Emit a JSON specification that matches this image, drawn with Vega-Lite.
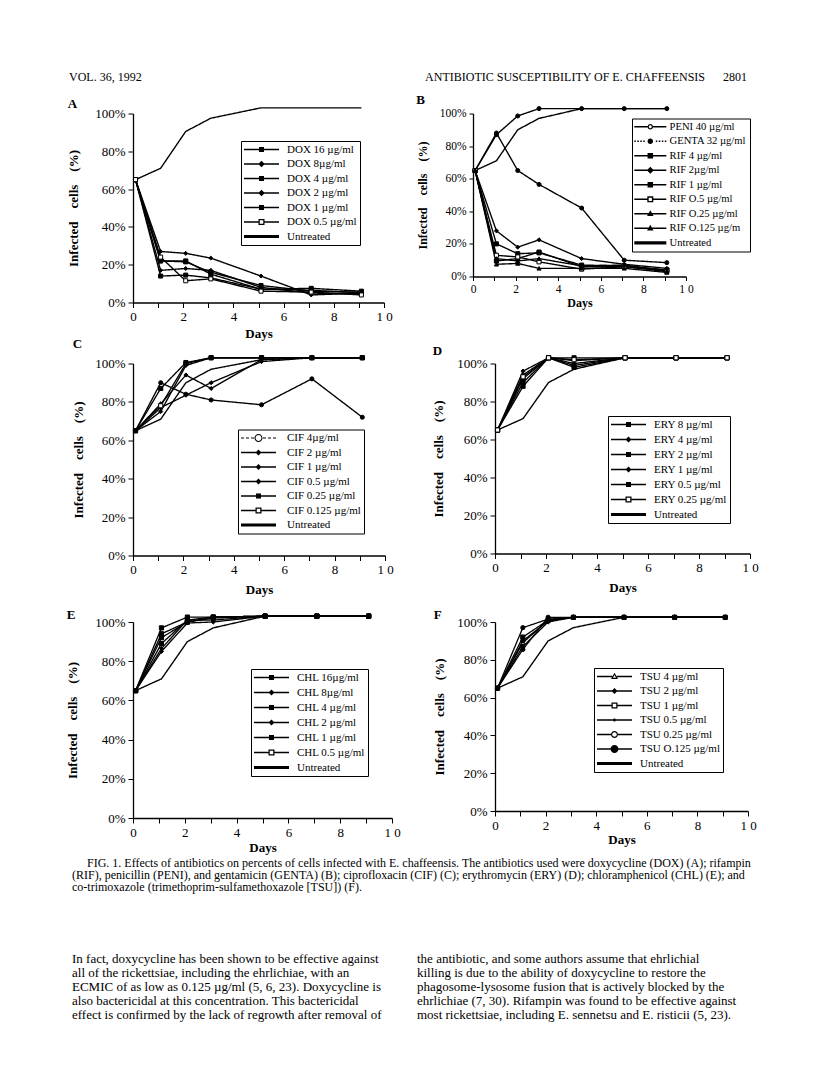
{
"$schema": "https://vega.github.io/schema/vega-lite/v6.json",
"background": "white",
"padding": {"left": 66, "top": 71, "right": 2, "bottom": 2},
"config": {
  "font": "Liberation Serif",
  "view": {"stroke": null},
  "axis": {"domainColor": "black", "tickColor": "black", "labelColor": "black", "titleColor": "black", "labelFont": "Liberation Serif", "titleFont": "Liberation Serif", "labelFontSize": 13, "titleFontSize": 13, "titleFontWeight": "bold", "tickSize": 5, "labelPadding": 3, "grid": false, "domainWidth": 1.3, "tickWidth": 1, "labelFlush": false, "labelOverlap": false},
  "legend": {"labelFont": "Liberation Serif", "labelFontSize": 11, "labelColor": "black", "strokeColor": "black", "fillColor": "white", "padding": 3, "rowPadding": 2.5, "orient": "none", "symbolStrokeWidth": 0, "symbolFillColor": "black", "symbolOpacity": 1},
  "title": {"font": "Liberation Serif", "fontSize": 13, "fontWeight": "bold", "color": "black", "anchor": "start", "frame": "bounds"}
},
"datasets": {
  "A": [
    {"day":0.1,"pct":65,"series":"DOX 16 µg/ml"},{"day":1.1,"pct":14,"series":"DOX 16 µg/ml"},{"day":2.1,"pct":14.5,"series":"DOX 16 µg/ml"},{"day":3.1,"pct":13,"series":"DOX 16 µg/ml"},{"day":5.1,"pct":7,"series":"DOX 16 µg/ml"},{"day":7.1,"pct":7.5,"series":"DOX 16 µg/ml"},{"day":9.1,"pct":6,"series":"DOX 16 µg/ml"},
    {"day":0.1,"pct":65,"series":"DOX 8µg/ml"},{"day":1.1,"pct":27,"series":"DOX 8µg/ml"},{"day":2.1,"pct":26,"series":"DOX 8µg/ml"},{"day":3.1,"pct":23.5,"series":"DOX 8µg/ml"},{"day":5.1,"pct":14,"series":"DOX 8µg/ml"},{"day":7.1,"pct":4,"series":"DOX 8µg/ml"},{"day":9.1,"pct":5,"series":"DOX 8µg/ml"},
    {"day":0.1,"pct":65,"series":"DOX 4 µg/ml"},{"day":1.1,"pct":22,"series":"DOX 4 µg/ml"},{"day":2.1,"pct":21.5,"series":"DOX 4 µg/ml"},{"day":3.1,"pct":16,"series":"DOX 4 µg/ml"},{"day":5.1,"pct":9,"series":"DOX 4 µg/ml"},{"day":7.1,"pct":6,"series":"DOX 4 µg/ml"},{"day":9.1,"pct":5.5,"series":"DOX 4 µg/ml"},
    {"day":0.1,"pct":65,"series":"DOX 2 µg/ml"},{"day":1.1,"pct":17,"series":"DOX 2 µg/ml"},{"day":2.1,"pct":18,"series":"DOX 2 µg/ml"},{"day":3.1,"pct":17,"series":"DOX 2 µg/ml"},{"day":5.1,"pct":8,"series":"DOX 2 µg/ml"},{"day":7.1,"pct":5,"series":"DOX 2 µg/ml"},{"day":9.1,"pct":4.5,"series":"DOX 2 µg/ml"},
    {"day":0.1,"pct":65,"series":"DOX 1 µg/ml"},{"day":1.1,"pct":22,"series":"DOX 1 µg/ml"},{"day":2.1,"pct":22,"series":"DOX 1 µg/ml"},{"day":3.1,"pct":15,"series":"DOX 1 µg/ml"},{"day":5.1,"pct":7,"series":"DOX 1 µg/ml"},{"day":7.1,"pct":6.5,"series":"DOX 1 µg/ml"},{"day":9.1,"pct":5,"series":"DOX 1 µg/ml"},
    {"day":0.1,"pct":65,"series":"DOX 0.5 µg/ml"},{"day":1.1,"pct":24,"series":"DOX 0.5 µg/ml"},{"day":2.1,"pct":11.5,"series":"DOX 0.5 µg/ml"},{"day":3.1,"pct":12.5,"series":"DOX 0.5 µg/ml"},{"day":5.1,"pct":6,"series":"DOX 0.5 µg/ml"},{"day":7.1,"pct":5.5,"series":"DOX 0.5 µg/ml"},{"day":9.1,"pct":4,"series":"DOX 0.5 µg/ml"},
    {"day":0.1,"pct":65,"series":"Untreated"},{"day":1.1,"pct":71,"series":"Untreated"},{"day":2.1,"pct":90.5,"series":"Untreated"},{"day":3.1,"pct":97.5,"series":"Untreated"},{"day":5.1,"pct":103,"series":"Untreated"},{"day":7.1,"pct":103,"series":"Untreated"},{"day":9.1,"pct":103,"series":"Untreated"}
  ],
  "B": [
    {"day":0.1,"pct":65,"series":"PENI 40 µg/ml"},{"day":1.1,"pct":87,"series":"PENI 40 µg/ml"},{"day":2.1,"pct":98.5,"series":"PENI 40 µg/ml"},{"day":3.1,"pct":103,"series":"PENI 40 µg/ml"},{"day":5.1,"pct":103,"series":"PENI 40 µg/ml"},{"day":7.1,"pct":103,"series":"PENI 40 µg/ml"},{"day":9.1,"pct":103,"series":"PENI 40 µg/ml"},
    {"day":0.1,"pct":65,"series":"GENTA 32 µg/ml"},{"day":1.1,"pct":88,"series":"GENTA 32 µg/ml"},{"day":2.1,"pct":65,"series":"GENTA 32 µg/ml"},{"day":3.1,"pct":56.5,"series":"GENTA 32 µg/ml"},{"day":5.1,"pct":42,"series":"GENTA 32 µg/ml"},{"day":7.1,"pct":10,"series":"GENTA 32 µg/ml"},{"day":9.1,"pct":8.5,"series":"GENTA 32 µg/ml"},
    {"day":0.1,"pct":65,"series":" RIF 4 µg/ml"},{"day":1.1,"pct":20,"series":" RIF 4 µg/ml"},{"day":2.1,"pct":14,"series":" RIF 4 µg/ml"},{"day":3.1,"pct":14.5,"series":" RIF 4 µg/ml"},{"day":5.1,"pct":7,"series":" RIF 4 µg/ml"},{"day":7.1,"pct":6.5,"series":" RIF 4 µg/ml"},{"day":9.1,"pct":4,"series":" RIF 4 µg/ml"},
    {"day":0.1,"pct":65,"series":"RIF 2µg/ml"},{"day":1.1,"pct":28,"series":"RIF 2µg/ml"},{"day":2.1,"pct":18,"series":"RIF 2µg/ml"},{"day":3.1,"pct":22.5,"series":"RIF 2µg/ml"},{"day":5.1,"pct":11,"series":"RIF 2µg/ml"},{"day":7.1,"pct":7.5,"series":"RIF 2µg/ml"},{"day":9.1,"pct":5,"series":"RIF 2µg/ml"},
    {"day":0.1,"pct":65,"series":"RIF 1 µg/ml"},{"day":1.1,"pct":9.5,"series":"RIF 1 µg/ml"},{"day":2.1,"pct":11,"series":"RIF 1 µg/ml"},{"day":3.1,"pct":15,"series":"RIF 1 µg/ml"},{"day":5.1,"pct":6,"series":"RIF 1 µg/ml"},{"day":7.1,"pct":6,"series":"RIF 1 µg/ml"},{"day":9.1,"pct":4,"series":"RIF 1 µg/ml"},
    {"day":0.1,"pct":65,"series":"RIF O.5 µg/ml"},{"day":1.1,"pct":13,"series":"RIF O.5 µg/ml"},{"day":2.1,"pct":12,"series":"RIF O.5 µg/ml"},{"day":3.1,"pct":9,"series":"RIF O.5 µg/ml"},{"day":5.1,"pct":4.5,"series":"RIF O.5 µg/ml"},{"day":7.1,"pct":6,"series":"RIF O.5 µg/ml"},{"day":9.1,"pct":3,"series":"RIF O.5 µg/ml"},
    {"day":0.1,"pct":65,"series":"RIF O.25 µg/ml"},{"day":1.1,"pct":11,"series":"RIF O.25 µg/ml"},{"day":2.1,"pct":9.5,"series":"RIF O.25 µg/ml"},{"day":3.1,"pct":11,"series":"RIF O.25 µg/ml"},{"day":5.1,"pct":6.5,"series":"RIF O.25 µg/ml"},{"day":7.1,"pct":7,"series":"RIF O.25 µg/ml"},{"day":9.1,"pct":3.5,"series":"RIF O.25 µg/ml"},
    {"day":0.1,"pct":65,"series":"RIF O.125 µg/m"},{"day":1.1,"pct":7.5,"series":"RIF O.125 µg/m"},{"day":2.1,"pct":8,"series":"RIF O.125 µg/m"},{"day":3.1,"pct":5,"series":"RIF O.125 µg/m"},{"day":5.1,"pct":5,"series":"RIF O.125 µg/m"},{"day":7.1,"pct":5,"series":"RIF O.125 µg/m"},{"day":9.1,"pct":2.5,"series":"RIF O.125 µg/m"},
    {"day":0.1,"pct":65,"series":"Untreated"},{"day":1.1,"pct":71,"series":"Untreated"},{"day":2.1,"pct":90,"series":"Untreated"},{"day":3.1,"pct":97,"series":"Untreated"},{"day":5.1,"pct":103,"series":"Untreated"},{"day":7.1,"pct":103,"series":"Untreated"},{"day":9.1,"pct":103,"series":"Untreated"}
  ],
  "C": [
    {"day":0.1,"pct":65,"series":"CIF  4µg/ml"},{"day":1.1,"pct":90,"series":"CIF  4µg/ml"},{"day":2.1,"pct":84,"series":"CIF  4µg/ml"},{"day":3.1,"pct":81,"series":"CIF  4µg/ml"},{"day":5.1,"pct":78.5,"series":"CIF  4µg/ml"},{"day":7.1,"pct":92,"series":"CIF  4µg/ml"},{"day":9.1,"pct":72,"series":"CIF  4µg/ml"},
    {"day":0.1,"pct":65,"series":"CIF 2 µg/ml"},{"day":1.1,"pct":79,"series":"CIF 2 µg/ml"},{"day":2.1,"pct":94,"series":"CIF 2 µg/ml"},{"day":3.1,"pct":87,"series":"CIF 2 µg/ml"},{"day":5.1,"pct":102,"series":"CIF 2 µg/ml"},{"day":7.1,"pct":103,"series":"CIF 2 µg/ml"},{"day":9.1,"pct":103,"series":"CIF 2 µg/ml"},
    {"day":0.1,"pct":65,"series":"CIF 1 µg/ml"},{"day":1.1,"pct":77,"series":"CIF 1 µg/ml"},{"day":2.1,"pct":83.5,"series":"CIF 1 µg/ml"},{"day":3.1,"pct":90,"series":"CIF 1 µg/ml"},{"day":5.1,"pct":101,"series":"CIF 1 µg/ml"},{"day":7.1,"pct":103,"series":"CIF 1 µg/ml"},{"day":9.1,"pct":103,"series":"CIF 1 µg/ml"},
    {"day":0.1,"pct":65,"series":"CIF 0.5 µg/ml"},{"day":1.1,"pct":75,"series":"CIF 0.5 µg/ml"},{"day":2.1,"pct":99,"series":"CIF 0.5 µg/ml"},{"day":3.1,"pct":103,"series":"CIF 0.5 µg/ml"},{"day":5.1,"pct":103,"series":"CIF 0.5 µg/ml"},{"day":7.1,"pct":103,"series":"CIF 0.5 µg/ml"},{"day":9.1,"pct":103,"series":"CIF 0.5 µg/ml"},
    {"day":0.1,"pct":65,"series":"CIF 0.25 µg/ml"},{"day":1.1,"pct":78,"series":"CIF 0.25 µg/ml"},{"day":2.1,"pct":100,"series":"CIF 0.25 µg/ml"},{"day":3.1,"pct":103,"series":"CIF 0.25 µg/ml"},{"day":5.1,"pct":103,"series":"CIF 0.25 µg/ml"},{"day":7.1,"pct":103,"series":"CIF 0.25 µg/ml"},{"day":9.1,"pct":103,"series":"CIF 0.25 µg/ml"},
    {"day":0.1,"pct":65,"series":"CIF 0.125 µg/ml"},{"day":1.1,"pct":87,"series":"CIF 0.125 µg/ml"},{"day":2.1,"pct":100.5,"series":"CIF 0.125 µg/ml"},{"day":3.1,"pct":103,"series":"CIF 0.125 µg/ml"},{"day":5.1,"pct":103,"series":"CIF 0.125 µg/ml"},{"day":7.1,"pct":103,"series":"CIF 0.125 µg/ml"},{"day":9.1,"pct":103,"series":"CIF 0.125 µg/ml"},
    {"day":0.1,"pct":65,"series":"Untreated"},{"day":1.1,"pct":71,"series":"Untreated"},{"day":2.1,"pct":90,"series":"Untreated"},{"day":3.1,"pct":97,"series":"Untreated"},{"day":5.1,"pct":102,"series":"Untreated"},{"day":7.1,"pct":103,"series":"Untreated"},{"day":9.1,"pct":103,"series":"Untreated"}
  ],
  "D": [
    {"day":0.1,"pct":65,"series":"ERY 8 µg/ml"},{"day":1.1,"pct":88,"series":"ERY 8 µg/ml"},{"day":2.1,"pct":103,"series":"ERY 8 µg/ml"},{"day":3.1,"pct":103,"series":"ERY 8 µg/ml"},{"day":5.1,"pct":103,"series":"ERY 8 µg/ml"},{"day":7.1,"pct":103,"series":"ERY 8 µg/ml"},{"day":9.1,"pct":103,"series":"ERY 8 µg/ml"},
    {"day":0.1,"pct":65,"series":"ERY 4 µg/ml"},{"day":1.1,"pct":96,"series":"ERY 4 µg/ml"},{"day":2.1,"pct":103,"series":"ERY 4 µg/ml"},{"day":3.1,"pct":101.5,"series":"ERY 4 µg/ml"},{"day":5.1,"pct":103,"series":"ERY 4 µg/ml"},{"day":7.1,"pct":103,"series":"ERY 4 µg/ml"},{"day":9.1,"pct":103,"series":"ERY 4 µg/ml"},
    {"day":0.1,"pct":65,"series":"ERY 2 µg/ml"},{"day":1.1,"pct":90,"series":"ERY 2 µg/ml"},{"day":2.1,"pct":103,"series":"ERY 2 µg/ml"},{"day":3.1,"pct":99,"series":"ERY 2 µg/ml"},{"day":5.1,"pct":103,"series":"ERY 2 µg/ml"},{"day":7.1,"pct":103,"series":"ERY 2 µg/ml"},{"day":9.1,"pct":103,"series":"ERY 2 µg/ml"},
    {"day":0.1,"pct":65,"series":"ERY 1 µg/ml"},{"day":1.1,"pct":94,"series":"ERY 1 µg/ml"},{"day":2.1,"pct":103,"series":"ERY 1 µg/ml"},{"day":3.1,"pct":100,"series":"ERY 1 µg/ml"},{"day":5.1,"pct":103,"series":"ERY 1 µg/ml"},{"day":7.1,"pct":103,"series":"ERY 1 µg/ml"},{"day":9.1,"pct":103,"series":"ERY 1 µg/ml"},
    {"day":0.1,"pct":65,"series":"ERY 0.5 µg/ml"},{"day":1.1,"pct":92,"series":"ERY 0.5 µg/ml"},{"day":2.1,"pct":103,"series":"ERY 0.5 µg/ml"},{"day":3.1,"pct":98,"series":"ERY 0.5 µg/ml"},{"day":5.1,"pct":103,"series":"ERY 0.5 µg/ml"},{"day":7.1,"pct":103,"series":"ERY 0.5 µg/ml"},{"day":9.1,"pct":103,"series":"ERY 0.5 µg/ml"},
    {"day":0.1,"pct":65,"series":"ERY 0.25 µg/ml"},{"day":1.1,"pct":93,"series":"ERY 0.25 µg/ml"},{"day":2.1,"pct":103,"series":"ERY 0.25 µg/ml"},{"day":3.1,"pct":102,"series":"ERY 0.25 µg/ml"},{"day":5.1,"pct":103,"series":"ERY 0.25 µg/ml"},{"day":7.1,"pct":103,"series":"ERY 0.25 µg/ml"},{"day":9.1,"pct":103,"series":"ERY 0.25 µg/ml"},
    {"day":0.1,"pct":65,"series":"Untreated"},{"day":1.1,"pct":71,"series":"Untreated"},{"day":2.1,"pct":90,"series":"Untreated"},{"day":3.1,"pct":97,"series":"Untreated"},{"day":5.1,"pct":103,"series":"Untreated"},{"day":7.1,"pct":103,"series":"Untreated"},{"day":9.1,"pct":103,"series":"Untreated"}
  ],
  "E": [
    {"day":0.1,"pct":65,"series":"CHL 16µg/ml"},{"day":1.1,"pct":89,"series":"CHL 16µg/ml"},{"day":2.1,"pct":101,"series":"CHL 16µg/ml"},{"day":3.1,"pct":102.5,"series":"CHL 16µg/ml"},{"day":5.1,"pct":103,"series":"CHL 16µg/ml"},{"day":7.1,"pct":103,"series":"CHL 16µg/ml"},{"day":9.1,"pct":103,"series":"CHL 16µg/ml"},
    {"day":0.1,"pct":65,"series":"CHL 8µg/ml"},{"day":1.1,"pct":85,"series":"CHL 8µg/ml"},{"day":2.1,"pct":99.5,"series":"CHL 8µg/ml"},{"day":3.1,"pct":100,"series":"CHL 8µg/ml"},{"day":5.1,"pct":103,"series":"CHL 8µg/ml"},{"day":7.1,"pct":103,"series":"CHL 8µg/ml"},{"day":9.1,"pct":103,"series":"CHL 8µg/ml"},
    {"day":0.1,"pct":65,"series":"CHL 4 µg/ml"},{"day":1.1,"pct":94,"series":"CHL 4 µg/ml"},{"day":2.1,"pct":100,"series":"CHL 4 µg/ml"},{"day":3.1,"pct":102.5,"series":"CHL 4 µg/ml"},{"day":5.1,"pct":103,"series":"CHL 4 µg/ml"},{"day":7.1,"pct":103,"series":"CHL 4 µg/ml"},{"day":9.1,"pct":103,"series":"CHL 4 µg/ml"},
    {"day":0.1,"pct":65,"series":"CHL 2 µg/ml"},{"day":1.1,"pct":86.5,"series":"CHL 2 µg/ml"},{"day":2.1,"pct":101,"series":"CHL 2 µg/ml"},{"day":3.1,"pct":101,"series":"CHL 2 µg/ml"},{"day":5.1,"pct":103,"series":"CHL 2 µg/ml"},{"day":7.1,"pct":103,"series":"CHL 2 µg/ml"},{"day":9.1,"pct":103,"series":"CHL 2 µg/ml"},
    {"day":0.1,"pct":65,"series":"CHL 1 µg/ml"},{"day":1.1,"pct":92,"series":"CHL 1 µg/ml"},{"day":2.1,"pct":100,"series":"CHL 1 µg/ml"},{"day":3.1,"pct":102,"series":"CHL 1 µg/ml"},{"day":5.1,"pct":103,"series":"CHL 1 µg/ml"},{"day":7.1,"pct":103,"series":"CHL 1 µg/ml"},{"day":9.1,"pct":103,"series":"CHL 1 µg/ml"},
    {"day":0.1,"pct":65,"series":"CHL 0.5 µg/ml"},{"day":1.1,"pct":97,"series":"CHL 0.5 µg/ml"},{"day":2.1,"pct":102.5,"series":"CHL 0.5 µg/ml"},{"day":3.1,"pct":102.5,"series":"CHL 0.5 µg/ml"},{"day":5.1,"pct":103,"series":"CHL 0.5 µg/ml"},{"day":7.1,"pct":103,"series":"CHL 0.5 µg/ml"},{"day":9.1,"pct":103,"series":"CHL 0.5 µg/ml"},
    {"day":0.1,"pct":65,"series":"Untreated"},{"day":1.1,"pct":71,"series":"Untreated"},{"day":2.1,"pct":90,"series":"Untreated"},{"day":3.1,"pct":97,"series":"Untreated"},{"day":5.1,"pct":103,"series":"Untreated"},{"day":7.1,"pct":103,"series":"Untreated"},{"day":9.1,"pct":103,"series":"Untreated"}
  ],
  "F": [
    {"day":0.1,"pct":65,"series":"TSU 4 µg/ml"},{"day":1.1,"pct":89,"series":"TSU 4 µg/ml"},{"day":2.1,"pct":101,"series":"TSU 4 µg/ml"},{"day":3.1,"pct":102.5,"series":"TSU 4 µg/ml"},{"day":5.1,"pct":102.5,"series":"TSU 4 µg/ml"},{"day":7.1,"pct":102.5,"series":"TSU 4 µg/ml"},{"day":9.1,"pct":102.5,"series":"TSU 4 µg/ml"},
    {"day":0.1,"pct":65,"series":"TSU 2 µg/ml"},{"day":1.1,"pct":87,"series":"TSU 2 µg/ml"},{"day":2.1,"pct":100,"series":"TSU 2 µg/ml"},{"day":3.1,"pct":102.5,"series":"TSU 2 µg/ml"},{"day":5.1,"pct":102.5,"series":"TSU 2 µg/ml"},{"day":7.1,"pct":102.5,"series":"TSU 2 µg/ml"},{"day":9.1,"pct":102.5,"series":"TSU 2 µg/ml"},
    {"day":0.1,"pct":65,"series":"TSU 1 µg/ml"},{"day":1.1,"pct":92,"series":"TSU 1 µg/ml"},{"day":2.1,"pct":101,"series":"TSU 1 µg/ml"},{"day":3.1,"pct":102.5,"series":"TSU 1 µg/ml"},{"day":5.1,"pct":102.5,"series":"TSU 1 µg/ml"},{"day":7.1,"pct":102.5,"series":"TSU 1 µg/ml"},{"day":9.1,"pct":102.5,"series":"TSU 1 µg/ml"},
    {"day":0.1,"pct":65,"series":"TSU 0.5 µg/ml"},{"day":1.1,"pct":90,"series":"TSU 0.5 µg/ml"},{"day":2.1,"pct":100.5,"series":"TSU 0.5 µg/ml"},{"day":3.1,"pct":102.5,"series":"TSU 0.5 µg/ml"},{"day":5.1,"pct":102.5,"series":"TSU 0.5 µg/ml"},{"day":7.1,"pct":102.5,"series":"TSU 0.5 µg/ml"},{"day":9.1,"pct":102.5,"series":"TSU 0.5 µg/ml"},
    {"day":0.1,"pct":65,"series":"TSU 0.25 µg/ml"},{"day":1.1,"pct":97,"series":"TSU 0.25 µg/ml"},{"day":2.1,"pct":101.5,"series":"TSU 0.25 µg/ml"},{"day":3.1,"pct":102.5,"series":"TSU 0.25 µg/ml"},{"day":5.1,"pct":102.5,"series":"TSU 0.25 µg/ml"},{"day":7.1,"pct":102.5,"series":"TSU 0.25 µg/ml"},{"day":9.1,"pct":102.5,"series":"TSU 0.25 µg/ml"},
    {"day":0.1,"pct":65,"series":"TSU O.125 µg/ml"},{"day":1.1,"pct":85.5,"series":"TSU O.125 µg/ml"},{"day":2.1,"pct":102.5,"series":"TSU O.125 µg/ml"},{"day":3.1,"pct":102.5,"series":"TSU O.125 µg/ml"},{"day":5.1,"pct":102.5,"series":"TSU O.125 µg/ml"},{"day":7.1,"pct":102.5,"series":"TSU O.125 µg/ml"},{"day":9.1,"pct":102.5,"series":"TSU O.125 µg/ml"},
    {"day":0.1,"pct":65,"series":"Untreated"},{"day":1.1,"pct":71,"series":"Untreated"},{"day":2.1,"pct":90,"series":"Untreated"},{"day":3.1,"pct":97,"series":"Untreated"},{"day":5.1,"pct":102.5,"series":"Untreated"},{"day":7.1,"pct":102.5,"series":"Untreated"},{"day":9.1,"pct":102.5,"series":"Untreated"}
  ]
},
"spacing": 10.5,
"vconcat": [
  {
    "width": 600, "height": 10,
    "data": {"values": [{"part": "left", "text": "VOL. 36, 1992"}, {"part": "right", "text": "ANTIBIOTIC SUSCEPTIBILITY OF E. CHAFFEENSIS\u00a0\u00a0\u00a0\u00a0\u00a0\u00a02801"}]},
    "layer": [
      {"transform": [{"filter": "datum.part === 'left'"}], "mark": {"type": "text", "align": "left", "baseline": "middle", "fontSize": 12, "font": "Liberation Serif", "color": "black"},
       "encoding": {"x": {"field": "part", "type": "nominal", "scale": {"type": "point", "padding": 0, "domain": ["left", "right"], "range": [-64, 614]}, "axis": null}, "text": {"field": "text"}}},
      {"transform": [{"filter": "datum.part === 'right'"}], "mark": {"type": "text", "align": "right", "baseline": "middle", "fontSize": 12, "font": "Liberation Serif", "color": "black"},
       "encoding": {"x": {"field": "part", "type": "nominal", "scale": {"type": "point", "padding": 0, "domain": ["left", "right"], "range": [-64, 614]}, "axis": null}, "text": {"field": "text"}}}
    ]
  },
  {
    "spacing": 2,
    "vconcat": [
      {
        "spacing": -3,
        "vconcat": [
          {
            "spacing": 23,
            "hconcat": [
              {
                "width": 251, "height": 189,
                "title": {"text": "A", "offset": -6},
                "data": {"name": "A"},
                "encoding": {
                  "x": {"field": "day", "type": "quantitative", "scale": {"domain": [0, 10], "nice": false, "zero": false}, "axis": {"values": [0,1,2,3,4,5,6,7,8,9,10], "labelExpr": "datum.value % 2 === 0 ? (datum.value === 10 ? '1 0' : datum.label) : ''", "title": "Days", "titlePadding": 4}},
                  "y": {"field": "pct", "type": "quantitative", "scale": {"domain": [0, 100], "nice": false}, "axis": {"values": [0,20,40,60,80,100], "labelExpr": "datum.value + '%'", "title": "Infected\u00a0\u00a0\u00a0\u00a0cells\u00a0\u00a0\u00a0\u00a0(%)", "titlePadding": 14}}
                },
                "layer": [
                  {"mark": {"type": "line", "color": "black"},
                   "encoding": {
                     "strokeDash": {"field": "series", "type": "nominal", "scale": {"domain": ["DOX 16 µg/ml","DOX 8µg/ml","DOX 4 µg/ml","DOX 2 µg/ml","DOX 1 µg/ml","DOX 0.5 µg/ml","Untreated"], "range": [[1,0],[1,0],[1,0],[1,0],[1,0],[1,0],[1,0]]}, "legend": null},
                     "strokeWidth": {"field": "series", "type": "nominal", "scale": {"domain": ["DOX 16 µg/ml","DOX 8µg/ml","DOX 4 µg/ml","DOX 2 µg/ml","DOX 1 µg/ml","DOX 0.5 µg/ml","Untreated"], "range": [1.4,1.3,1.4,1.3,1.4,1.3,2.6]}, "legend": null}}},
                  {"transform": [{"filter": "datum.series !== 'Untreated'"}],
                   "mark": {"type": "point", "filled": true, "stroke": "black", "strokeWidth": 1, "opacity": 1},
                   "encoding": {
                     "shape": {"field": "series", "type": "nominal", "scale": {"domain": ["DOX 16 µg/ml","DOX 8µg/ml","DOX 4 µg/ml","DOX 2 µg/ml","DOX 1 µg/ml","DOX 0.5 µg/ml","Untreated"], "range": ["square","diamond","square","diamond","square","square","circle"]}, "legend": null},
                     "fill": {"field": "series", "type": "nominal", "scale": {"domain": ["DOX 16 µg/ml","DOX 8µg/ml","DOX 4 µg/ml","DOX 2 µg/ml","DOX 1 µg/ml","DOX 0.5 µg/ml","Untreated"], "range": ["black","black","black","black","black","white","black"]}, "legend": null},
                     "size": {"field": "series", "type": "nominal", "scale": {"domain": ["DOX 16 µg/ml","DOX 8µg/ml","DOX 4 µg/ml","DOX 2 µg/ml","DOX 1 µg/ml","DOX 0.5 µg/ml","Untreated"], "range": [16,18,16,18,16,18,0]}, "legend": null}}},
                  {"transform": [{"filter": "false"}],
                   "mark": {"type": "point", "filled": true, "color": "black", "opacity": 1, "size": 100},
                   "encoding": {
                     "shape": {"field": "series", "type": "nominal", "scale": {"domain": ["DOX 16 µg/ml","DOX 8µg/ml","DOX 4 µg/ml","DOX 2 µg/ml","DOX 1 µg/ml","DOX 0.5 µg/ml","Untreated"], "range": [
                       "M-3.5,-0.13H3.5V0.13H-3.5ZM-0.5,-0.5H0.5V0.5H-0.5Z",
                       "M-3.5,-0.13H3.5V0.13H-3.5ZM0,-0.65L0.65,0L0,0.65L-0.65,0Z",
                       "M-3.5,-0.13H3.5V0.13H-3.5ZM-0.5,-0.5H0.5V0.5H-0.5Z",
                       "M-3.5,-0.13H3.5V0.13H-3.5ZM0,-0.65L0.65,0L0,0.65L-0.65,0Z",
                       "M-3.5,-0.13H3.5V0.13H-3.5ZM-0.5,-0.5H0.5V0.5H-0.5Z",
                       "M-3.5,-0.13H-0.6V0.13H-3.5ZM0.6,-0.13H3.5V0.13H0.6ZM-0.6,-0.6H0.6V0.6H-0.6ZM-0.35,-0.35V0.35H0.35V-0.35Z",
                       "M-3.5,-0.28H3.5V0.28H-3.5Z"]},
                       "legend": {"title": null, "legendX": 108, "legendY": 27.5, "symbolOffset": 12, "labelOffset": 20, "encode": {"legend": {"update": {"strokeWidth": {"value": 1.6}}}, "symbols": {"update": {"fill": {"value": "black"}, "strokeWidth": {"value": 0}, "opacity": {"value": 1}}}}}}}}
                ],
                "resolve": {"scale": {"shape": "independent"}}
              },
              {
                "width": 213, "height": 163,
                "title": {"text": "B", "offset": -2},
                "data": {"name": "B"},
                "encoding": {
                  "x": {"field": "day", "type": "quantitative", "scale": {"domain": [0, 10], "nice": false, "zero": false}, "axis": {"values": [0,1,2,3,4,5,6,7,8,9,10], "labelExpr": "datum.value % 2 === 0 ? (datum.value === 10 ? '1 0' : datum.label) : ''", "title": "Days", "titlePadding": 2, "labelFontSize": 11.5, "titleFontSize": 12, "tickSize": 4}},
                  "y": {"field": "pct", "type": "quantitative", "scale": {"domain": [0, 100], "nice": false}, "axis": {"values": [0,20,40,60,80,100], "labelExpr": "datum.value + '%'", "title": "Infected\u00a0\u00a0\u00a0\u00a0cells\u00a0\u00a0\u00a0\u00a0(%)", "titlePadding": 10, "labelFontSize": 11.5, "titleFontSize": 12, "tickSize": 4}}
                },
                "layer": [
                  {"mark": {"type": "line", "color": "black"},
                   "encoding": {
                     "strokeDash": {"field": "series", "type": "nominal", "scale": {"domain": ["PENI 40 µg/ml","GENTA 32 µg/ml"," RIF 4 µg/ml","RIF 2µg/ml","RIF 1 µg/ml","RIF O.5 µg/ml","RIF O.25 µg/ml","RIF O.125 µg/m","Untreated"], "range": [[1,0],[1.5,2],[1,0],[1,0],[1,0],[1,0],[1,0],[1,0],[1,0]]}, "legend": null},
                     "strokeWidth": {"field": "series", "type": "nominal", "scale": {"domain": ["PENI 40 µg/ml","GENTA 32 µg/ml"," RIF 4 µg/ml","RIF 2µg/ml","RIF 1 µg/ml","RIF O.5 µg/ml","RIF O.25 µg/ml","RIF O.125 µg/m","Untreated"], "range": [1.3,1.6,1.3,1.2,1.3,1.2,1.2,1.2,2.4]}, "legend": null}}},
                  {"transform": [{"filter": "datum.series !== 'Untreated'"}],
                   "mark": {"type": "point", "filled": true, "stroke": "black", "strokeWidth": 1, "opacity": 1},
                   "encoding": {
                     "shape": {"field": "series", "type": "nominal", "scale": {"domain": ["PENI 40 µg/ml","GENTA 32 µg/ml"," RIF 4 µg/ml","RIF 2µg/ml","RIF 1 µg/ml","RIF O.5 µg/ml","RIF O.25 µg/ml","RIF O.125 µg/m","Untreated"], "range": ["circle","circle","square","diamond","square","square","triangle-up","triangle-up","circle"]}, "legend": null},
                     "fill": {"field": "series", "type": "nominal", "scale": {"domain": ["PENI 40 µg/ml","GENTA 32 µg/ml"," RIF 4 µg/ml","RIF 2µg/ml","RIF 1 µg/ml","RIF O.5 µg/ml","RIF O.25 µg/ml","RIF O.125 µg/m","Untreated"], "range": ["white","black","black","black","black","white","black","black","black"]}, "legend": null},
                     "size": {"field": "series", "type": "nominal", "scale": {"domain": ["PENI 40 µg/ml","GENTA 32 µg/ml"," RIF 4 µg/ml","RIF 2µg/ml","RIF 1 µg/ml","RIF O.5 µg/ml","RIF O.25 µg/ml","RIF O.125 µg/m","Untreated"], "range": [14,16,14,16,14,14,16,16,0]}, "legend": null}}},
                  {"transform": [{"filter": "false"}],
                   "mark": {"type": "point", "filled": true, "color": "black", "opacity": 1, "size": 64},
                   "encoding": {
                     "shape": {"field": "series", "type": "nominal", "scale": {"domain": ["PENI 40 µg/ml","GENTA 32 µg/ml"," RIF 4 µg/ml","RIF 2µg/ml","RIF 1 µg/ml","RIF O.5 µg/ml","RIF O.25 µg/ml","RIF O.125 µg/m","Untreated"], "range": [
                       "M-3.2,-0.16H-0.55V0.16H-3.2ZM0.55,-0.16H3.2V0.16H0.55ZM0.55,0A0.55,0.55,0,1,1,-0.55,0A0.55,0.55,0,1,1,0.55,0ZM0.3,0A0.3,0.3,0,1,0,-0.3,0A0.3,0.3,0,1,0,0.3,0Z",
                       "M-3.2,-0.16H-2.9V0.16H-3.2ZM-2.6,-0.16H-2.3V0.16H-2.6ZM-2,-0.16H-1.7V0.16H-2ZM-1.4,-0.16H-1.1V0.16H-1.4ZM1.1,-0.16H1.4V0.16H1.1ZM1.7,-0.16H2V0.16H1.7ZM2.3,-0.16H2.6V0.16H2.3ZM2.9,-0.16H3.2V0.16H2.9ZM0.55,0A0.55,0.55,0,1,1,-0.55,0A0.55,0.55,0,1,1,0.55,0Z",
                       "M-3.2,-0.16H3.2V0.16H-3.2ZM-0.55,-0.55H0.55V0.55H-0.55Z",
                       "M-3.2,-0.16H3.2V0.16H-3.2ZM0,-0.7L0.7,0L0,0.7L-0.7,0Z",
                       "M-3.2,-0.16H3.2V0.16H-3.2ZM-0.55,-0.55H0.55V0.55H-0.55Z",
                       "M-3.2,-0.16H-0.6V0.16H-3.2ZM0.6,-0.16H3.2V0.16H0.6ZM-0.6,-0.6H0.6V0.6H-0.6ZM-0.32,-0.32V0.32H0.32V-0.32Z",
                       "M-3.2,-0.16H3.2V0.16H-3.2ZM0,-0.7L0.65,0.45L-0.65,0.45Z",
                       "M-3.2,-0.16H3.2V0.16H-3.2ZM0,-0.7L0.65,0.45L-0.65,0.45Z",
                       "M-3.2,-0.32H3.2V0.32H-3.2Z"]},
                       "legend": {"title": null, "legendX": 159, "legendY": 5, "labelFontSize": 10.6, "symbolOffset": 10, "labelOffset": 14, "rowPadding": 3.5, "encode": {"legend": {"update": {"strokeWidth": {"value": 1.6}}}, "symbols": {"update": {"fill": {"value": "black"}, "strokeWidth": {"value": 0}, "opacity": {"value": 1}}}}}}}}
                ],
                "resolve": {"scale": {"shape": "independent"}}
              }
            ]
          },
          {
            "spacing": 12.5,
            "vconcat": [
              {
                "spacing": 38,
                "hconcat": [
                  {
                    "width": 252, "height": 192,
                    "title": {"text": "C", "offset": 3},
                    "data": {"name": "C"},
                    "encoding": {
                      "x": {"field": "day", "type": "quantitative", "scale": {"domain": [0, 10], "nice": false, "zero": false}, "axis": {"values": [0,1,2,3,4,5,6,7,8,9,10], "labelExpr": "datum.value % 2 === 0 ? (datum.value === 10 ? '1 0' : datum.label) : ''", "title": "Days", "titlePadding": 7}},
                      "y": {"field": "pct", "type": "quantitative", "scale": {"domain": [0, 100], "nice": false}, "axis": {"values": [0,20,40,60,80,100], "labelExpr": "datum.value + '%'", "title": "Infected\u00a0\u00a0\u00a0\u00a0cells\u00a0\u00a0\u00a0\u00a0(%)", "titlePadding": 9}}
                    },
                    "layer": [
                      {"mark": {"type": "line", "color": "black"},
                       "encoding": {
                         "strokeDash": {"field": "series", "type": "nominal", "scale": {"domain": ["CIF  4µg/ml","CIF 2 µg/ml","CIF 1 µg/ml","CIF 0.5 µg/ml","CIF 0.25 µg/ml","CIF 0.125 µg/ml","Untreated"], "range": [[3,2],[1,0],[1,0],[1,0],[1,0],[1,0],[1,0]]}, "legend": null},
                         "strokeWidth": {"field": "series", "type": "nominal", "scale": {"domain": ["CIF  4µg/ml","CIF 2 µg/ml","CIF 1 µg/ml","CIF 0.5 µg/ml","CIF 0.25 µg/ml","CIF 0.125 µg/ml","Untreated"], "range": [1.1,1.3,1.3,1.4,1.8,1.3,2.6]}, "legend": null}}},
                      {"transform": [{"filter": "datum.series !== 'Untreated'"}],
                       "mark": {"type": "point", "filled": true, "stroke": "black", "strokeWidth": 1, "opacity": 1},
                       "encoding": {
                         "shape": {"field": "series", "type": "nominal", "scale": {"domain": ["CIF  4µg/ml","CIF 2 µg/ml","CIF 1 µg/ml","CIF 0.5 µg/ml","CIF 0.25 µg/ml","CIF 0.125 µg/ml","Untreated"], "range": ["circle","diamond","diamond","diamond","square","square","circle"]}, "legend": null},
                         "fill": {"field": "series", "type": "nominal", "scale": {"domain": ["CIF  4µg/ml","CIF 2 µg/ml","CIF 1 µg/ml","CIF 0.5 µg/ml","CIF 0.25 µg/ml","CIF 0.125 µg/ml","Untreated"], "range": ["white","black","black","black","black","white","black"]}, "legend": null},
                         "size": {"field": "series", "type": "nominal", "scale": {"domain": ["CIF  4µg/ml","CIF 2 µg/ml","CIF 1 µg/ml","CIF 0.5 µg/ml","CIF 0.25 µg/ml","CIF 0.125 µg/ml","Untreated"], "range": [42,16,16,16,16,18,0]}, "legend": null}}},
                      {"transform": [{"filter": "false"}],
                       "mark": {"type": "point", "filled": true, "color": "black", "opacity": 1, "size": 100},
                       "encoding": {
                         "shape": {"field": "series", "type": "nominal", "scale": {"domain": ["CIF  4µg/ml","CIF 2 µg/ml","CIF 1 µg/ml","CIF 0.5 µg/ml","CIF 0.25 µg/ml","CIF 0.125 µg/ml","Untreated"], "range": [
                           "M-3.5,-0.11H-2.9V0.11H-3.5ZM-2.5,-0.11H-1.9V0.11H-2.5ZM-1.5,-0.11H-0.9V0.11H-1.5ZM0.9,-0.11H1.5V0.11H0.9ZM1.9,-0.11H2.5V0.11H1.9ZM2.9,-0.11H3.5V0.11H2.9ZM0.8,0A0.8,0.8,0,1,1,-0.8,0A0.8,0.8,0,1,1,0.8,0ZM0.58,0A0.58,0.58,0,1,0,-0.58,0A0.58,0.58,0,1,0,0.58,0Z",
                           "M-3.5,-0.13H3.5V0.13H-3.5ZM0,-0.6L0.6,0L0,0.6L-0.6,0Z",
                           "M-3.5,-0.13H3.5V0.13H-3.5ZM0,-0.6L0.6,0L0,0.6L-0.6,0Z",
                           "M-3.5,-0.13H3.5V0.13H-3.5ZM0,-0.6L0.6,0L0,0.6L-0.6,0Z",
                           "M-3.5,-0.15H3.5V0.15H-3.5ZM-0.5,-0.5H0.5V0.5H-0.5Z",
                           "M-3.5,-0.13H-0.6V0.13H-3.5ZM0.6,-0.13H3.5V0.13H0.6ZM-0.6,-0.6H0.6V0.6H-0.6ZM-0.35,-0.35V0.35H0.35V-0.35Z",
                           "M-3.5,-0.28H3.5V0.28H-3.5Z"]},
                           "legend": {"title": null, "legendX": 105, "legendY": 66, "symbolOffset": 12, "labelOffset": 23, "encode": {"legend": {"update": {"strokeWidth": {"value": 1.6}}}, "symbols": {"update": {"fill": {"value": "black"}, "strokeWidth": {"value": 0}, "opacity": {"value": 1}}}}}}}}
                    ],
                    "resolve": {"scale": {"shape": "independent"}}
                  },
                  {
                    "width": 255, "height": 190,
                    "title": {"text": "D", "offset": -4},
                    "data": {"name": "D"},
                    "encoding": {
                      "x": {"field": "day", "type": "quantitative", "scale": {"domain": [0, 10], "nice": false, "zero": false}, "axis": {"values": [0,1,2,3,4,5,6,7,8,9,10], "labelExpr": "datum.value % 2 === 0 ? (datum.value === 10 ? '1 0' : datum.label) : ''", "title": "Days", "titlePadding": 7}},
                      "y": {"field": "pct", "type": "quantitative", "scale": {"domain": [0, 100], "nice": false}, "axis": {"values": [0,20,40,60,80,100], "labelExpr": "datum.value + '%'", "title": "Infected\u00a0\u00a0\u00a0\u00a0cells\u00a0\u00a0\u00a0\u00a0(%)", "titlePadding": 11}}
                    },
                    "layer": [
                      {"mark": {"type": "line", "color": "black"},
                       "encoding": {
                         "strokeDash": {"field": "series", "type": "nominal", "scale": {"domain": ["ERY 8 µg/ml","ERY 4 µg/ml","ERY 2 µg/ml","ERY 1 µg/ml","ERY 0.5 µg/ml","ERY 0.25 µg/ml","Untreated"], "range": [[1,0],[1,0],[1,0],[1,0],[1,0],[1,0],[1,0]]}, "legend": null},
                         "strokeWidth": {"field": "series", "type": "nominal", "scale": {"domain": ["ERY 8 µg/ml","ERY 4 µg/ml","ERY 2 µg/ml","ERY 1 µg/ml","ERY 0.5 µg/ml","ERY 0.25 µg/ml","Untreated"], "range": [1.4,1.2,1.4,1.2,1.4,1.2,2.4]}, "legend": null}}},
                      {"transform": [{"filter": "datum.series !== 'Untreated'"}],
                       "mark": {"type": "point", "filled": true, "stroke": "black", "strokeWidth": 1, "opacity": 1},
                       "encoding": {
                         "shape": {"field": "series", "type": "nominal", "scale": {"domain": ["ERY 8 µg/ml","ERY 4 µg/ml","ERY 2 µg/ml","ERY 1 µg/ml","ERY 0.5 µg/ml","ERY 0.25 µg/ml","Untreated"], "range": ["square","diamond","square","diamond","square","square","circle"]}, "legend": null},
                         "fill": {"field": "series", "type": "nominal", "scale": {"domain": ["ERY 8 µg/ml","ERY 4 µg/ml","ERY 2 µg/ml","ERY 1 µg/ml","ERY 0.5 µg/ml","ERY 0.25 µg/ml","Untreated"], "range": ["black","black","black","black","black","white","black"]}, "legend": null},
                         "size": {"field": "series", "type": "nominal", "scale": {"domain": ["ERY 8 µg/ml","ERY 4 µg/ml","ERY 2 µg/ml","ERY 1 µg/ml","ERY 0.5 µg/ml","ERY 0.25 µg/ml","Untreated"], "range": [16,16,16,16,16,18,0]}, "legend": null}}},
                      {"transform": [{"filter": "false"}],
                       "mark": {"type": "point", "filled": true, "color": "black", "opacity": 1, "size": 100},
                       "encoding": {
                         "shape": {"field": "series", "type": "nominal", "scale": {"domain": ["ERY 8 µg/ml","ERY 4 µg/ml","ERY 2 µg/ml","ERY 1 µg/ml","ERY 0.5 µg/ml","ERY 0.25 µg/ml","Untreated"], "range": [
                           "M-3.5,-0.13H3.5V0.13H-3.5ZM-0.5,-0.5H0.5V0.5H-0.5Z",
                           "M-3.5,-0.13H3.5V0.13H-3.5ZM0,-0.6L0.6,0L0,0.6L-0.6,0Z",
                           "M-3.5,-0.13H3.5V0.13H-3.5ZM-0.5,-0.5H0.5V0.5H-0.5Z",
                           "M-3.5,-0.13H3.5V0.13H-3.5ZM0,-0.6L0.6,0L0,0.6L-0.6,0Z",
                           "M-3.5,-0.13H3.5V0.13H-3.5ZM-0.5,-0.5H0.5V0.5H-0.5Z",
                           "M-3.5,-0.13H-0.6V0.13H-3.5ZM0.6,-0.13H3.5V0.13H0.6ZM-0.6,-0.6H0.6V0.6H-0.6ZM-0.35,-0.35V0.35H0.35V-0.35Z",
                           "M-3.5,-0.28H3.5V0.28H-3.5Z"]},
                           "legend": {"title": null, "legendX": 113, "legendY": 52.5, "symbolOffset": 12, "labelOffset": 20, "rowPadding": 3, "encode": {"legend": {"update": {"strokeWidth": {"value": 1.6}}}, "symbols": {"update": {"fill": {"value": "black"}, "strokeWidth": {"value": 0}, "opacity": {"value": 1}}}}}}}}
                    ],
                    "resolve": {"scale": {"shape": "independent"}}
                  }
                ]
              },
              {
                "spacing": 32,
                "hconcat": [
                  {
                    "width": 259, "height": 196,
                    "title": {"text": "E", "offset": -10},
                    "data": {"name": "E"},
                    "encoding": {
                      "x": {"field": "day", "type": "quantitative", "scale": {"domain": [0, 10], "nice": false, "zero": false}, "axis": {"values": [0,1,2,3,4,5,6,7,8,9,10], "labelExpr": "datum.value % 2 === 0 ? (datum.value === 10 ? '1 0' : datum.label) : ''", "title": "Days", "titlePadding": 2}},
                      "y": {"field": "pct", "type": "quantitative", "scale": {"domain": [0, 100], "nice": false}, "axis": {"values": [0,20,40,60,80,100], "labelExpr": "datum.value + '%'", "title": "Infected\u00a0\u00a0\u00a0\u00a0cells\u00a0\u00a0\u00a0\u00a0(%)", "titlePadding": 15}}
                    },
                    "layer": [
                      {"mark": {"type": "line", "color": "black"},
                       "encoding": {
                         "strokeDash": {"field": "series", "type": "nominal", "scale": {"domain": ["CHL 16µg/ml","CHL 8µg/ml","CHL 4 µg/ml","CHL 2 µg/ml","CHL 1 µg/ml","CHL 0.5 µg/ml","Untreated"], "range": [[1,0],[1,0],[1,0],[1,0],[1,0],[1,0],[1,0]]}, "legend": null},
                         "strokeWidth": {"field": "series", "type": "nominal", "scale": {"domain": ["CHL 16µg/ml","CHL 8µg/ml","CHL 4 µg/ml","CHL 2 µg/ml","CHL 1 µg/ml","CHL 0.5 µg/ml","Untreated"], "range": [1.4,1.3,1.4,1.3,1.5,1.3,2.5]}, "legend": null}}},
                      {"transform": [{"filter": "datum.series !== 'Untreated'"}],
                       "mark": {"type": "point", "filled": true, "stroke": "black", "strokeWidth": 1, "opacity": 1},
                       "encoding": {
                         "shape": {"field": "series", "type": "nominal", "scale": {"domain": ["CHL 16µg/ml","CHL 8µg/ml","CHL 4 µg/ml","CHL 2 µg/ml","CHL 1 µg/ml","CHL 0.5 µg/ml","Untreated"], "range": ["square","diamond","square","diamond","square","square","circle"]}, "legend": null},
                         "fill": {"field": "series", "type": "nominal", "scale": {"domain": ["CHL 16µg/ml","CHL 8µg/ml","CHL 4 µg/ml","CHL 2 µg/ml","CHL 1 µg/ml","CHL 0.5 µg/ml","Untreated"], "range": ["black","black","black","black","black","white","black"]}, "legend": null},
                         "size": {"field": "series", "type": "nominal", "scale": {"domain": ["CHL 16µg/ml","CHL 8µg/ml","CHL 4 µg/ml","CHL 2 µg/ml","CHL 1 µg/ml","CHL 0.5 µg/ml","Untreated"], "range": [16,16,16,16,16,20,0]}, "legend": null}}},
                      {"transform": [{"filter": "false"}],
                       "mark": {"type": "point", "filled": true, "color": "black", "opacity": 1, "size": 100},
                       "encoding": {
                         "shape": {"field": "series", "type": "nominal", "scale": {"domain": ["CHL 16µg/ml","CHL 8µg/ml","CHL 4 µg/ml","CHL 2 µg/ml","CHL 1 µg/ml","CHL 0.5 µg/ml","Untreated"], "range": [
                           "M-3.5,-0.13H3.5V0.13H-3.5ZM-0.5,-0.5H0.5V0.5H-0.5Z",
                           "M-3.5,-0.13H3.5V0.13H-3.5ZM0,-0.6L0.6,0L0,0.6L-0.6,0Z",
                           "M-3.5,-0.13H3.5V0.13H-3.5ZM-0.5,-0.5H0.5V0.5H-0.5Z",
                           "M-3.5,-0.13H3.5V0.13H-3.5ZM0,-0.6L0.6,0L0,0.6L-0.6,0Z",
                           "M-3.5,-0.15H3.5V0.15H-3.5ZM-0.5,-0.5H0.5V0.5H-0.5Z",
                           "M-3.5,-0.13H-0.6V0.13H-3.5ZM0.6,-0.13H3.5V0.13H0.6ZM-0.6,-0.6H0.6V0.6H-0.6ZM-0.35,-0.35V0.35H0.35V-0.35Z",
                           "M-3.5,-0.28H3.5V0.28H-3.5Z"]},
                           "legend": {"title": null, "legendX": 118, "legendY": 47, "symbolOffset": 12, "labelOffset": 20, "rowPadding": 3, "encode": {"legend": {"update": {"strokeWidth": {"value": 1.6}}}, "symbols": {"update": {"fill": {"value": "black"}, "strokeWidth": {"value": 0}, "opacity": {"value": 1}}}}}}}}
                    ],
                    "resolve": {"scale": {"shape": "independent"}}
                  },
                  {
                    "width": 253, "height": 189,
                    "title": {"text": "F", "offset": -9},
                    "data": {"name": "F"},
                    "encoding": {
                      "x": {"field": "day", "type": "quantitative", "scale": {"domain": [0, 10], "nice": false, "zero": false}, "axis": {"values": [0,1,2,3,4,5,6,7,8,9,10], "labelExpr": "datum.value % 2 === 0 ? (datum.value === 10 ? '1 0' : datum.label) : ''", "title": "Days", "titlePadding": 1}},
                      "y": {"field": "pct", "type": "quantitative", "scale": {"domain": [0, 100], "nice": false}, "axis": {"values": [0,20,40,60,80,100], "labelExpr": "datum.value + '%'", "title": "Infected\u00a0\u00a0\u00a0\u00a0cells\u00a0\u00a0\u00a0\u00a0(%)", "titlePadding": 10}}
                    },
                    "layer": [
                      {"mark": {"type": "line", "color": "black"},
                       "encoding": {
                         "strokeDash": {"field": "series", "type": "nominal", "scale": {"domain": ["TSU 4 µg/ml","TSU 2 µg/ml","TSU 1 µg/ml","TSU 0.5 µg/ml","TSU 0.25 µg/ml","TSU O.125 µg/ml","Untreated"], "range": [[1,0],[1,0],[1,0],[1,0],[1,0],[1,0],[1,0]]}, "legend": null},
                         "strokeWidth": {"field": "series", "type": "nominal", "scale": {"domain": ["TSU 4 µg/ml","TSU 2 µg/ml","TSU 1 µg/ml","TSU 0.5 µg/ml","TSU 0.25 µg/ml","TSU O.125 µg/ml","Untreated"], "range": [1.3,1.3,1.3,1.1,1.3,1.5,2.5]}, "legend": null}}},
                      {"transform": [{"filter": "datum.series !== 'Untreated'"}],
                       "mark": {"type": "point", "filled": true, "stroke": "black", "strokeWidth": 1, "opacity": 1},
                       "encoding": {
                         "shape": {"field": "series", "type": "nominal", "scale": {"domain": ["TSU 4 µg/ml","TSU 2 µg/ml","TSU 1 µg/ml","TSU 0.5 µg/ml","TSU 0.25 µg/ml","TSU O.125 µg/ml","Untreated"], "range": ["triangle-up","diamond","square","circle","circle","circle","circle"]}, "legend": null},
                         "fill": {"field": "series", "type": "nominal", "scale": {"domain": ["TSU 4 µg/ml","TSU 2 µg/ml","TSU 1 µg/ml","TSU 0.5 µg/ml","TSU 0.25 µg/ml","TSU O.125 µg/ml","Untreated"], "range": ["white","black","white","black","white","black","black"]}, "legend": null},
                         "size": {"field": "series", "type": "nominal", "scale": {"domain": ["TSU 4 µg/ml","TSU 2 µg/ml","TSU 1 µg/ml","TSU 0.5 µg/ml","TSU 0.25 µg/ml","TSU O.125 µg/ml","Untreated"], "range": [26,16,18,7,38,52,0]}, "legend": null}}},
                      {"transform": [{"filter": "false"}],
                       "mark": {"type": "point", "filled": true, "color": "black", "opacity": 1, "size": 100},
                       "encoding": {
                         "shape": {"field": "series", "type": "nominal", "scale": {"domain": ["TSU 4 µg/ml","TSU 2 µg/ml","TSU 1 µg/ml","TSU 0.5 µg/ml","TSU 0.25 µg/ml","TSU O.125 µg/ml","Untreated"], "range": [
                           "M-3.5,-0.13H-0.45V0.13H-3.5ZM0.45,-0.13H3.5V0.13H0.45ZM0,-0.75L0.7,0.5L-0.7,0.5ZM0,-0.3L-0.3,0.25L0.3,0.25Z",
                           "M-3.5,-0.13H3.5V0.13H-3.5ZM0,-0.6L0.6,0L0,0.6L-0.6,0Z",
                           "M-3.5,-0.13H-0.6V0.13H-3.5ZM0.6,-0.13H3.5V0.13H0.6ZM-0.6,-0.6H0.6V0.6H-0.6ZM-0.35,-0.35V0.35H0.35V-0.35Z",
                           "M-3.5,-0.13H3.5V0.13H-3.5ZM0.3,0A0.3,0.3,0,1,1,-0.3,0A0.3,0.3,0,1,1,0.3,0Z",
                           "M-3.5,-0.13H-0.7V0.13H-3.5ZM0.7,-0.13H3.5V0.13H0.7ZM0.7,0A0.7,0.7,0,1,1,-0.7,0A0.7,0.7,0,1,1,0.7,0ZM0.45,0A0.45,0.45,0,1,0,-0.45,0A0.45,0.45,0,1,0,0.45,0Z",
                           "M-3.5,-0.15H3.5V0.15H-3.5ZM0.8,0A0.8,0.8,0,1,1,-0.8,0A0.8,0.8,0,1,1,0.8,0Z",
                           "M-3.5,-0.28H3.5V0.28H-3.5Z"]},
                           "legend": {"title": null, "legendX": 99, "legendY": 46, "symbolOffset": 12, "labelOffset": 20, "encode": {"legend": {"update": {"strokeWidth": {"value": 1.6}}}, "symbols": {"update": {"fill": {"value": "black"}, "strokeWidth": {"value": 0}, "opacity": {"value": 1}}}}}}}}
                    ],
                    "resolve": {"scale": {"shape": "independent"}}
                  }
                ]
              }
            ]
          }
        ]
      },
      {
        "spacing": 60,
        "vconcat": [
          {
            "width": 600, "height": 24,
            "data": {"values": [
              {"line": 1, "col": "indent", "text": "FIG. 1. Effects of antibiotics on percents of cells infected with E. chaffeensis. The antibiotics used were doxycycline (DOX) (A); rifampin"},
              {"line": 2, "col": "left", "text": "(RIF), penicillin (PENI), and gentamicin (GENTA) (B); ciprofloxacin (CIF) (C); erythromycin (ERY) (D); chloramphenicol (CHL) (E); and"},
              {"line": 3, "col": "left", "text": "co-trimoxazole (trimethoprim-sulfamethoxazole [TSU]) (F)."}
            ]},
            "mark": {"type": "text", "align": "left", "baseline": "middle", "fontSize": 12, "font": "Liberation Serif", "color": "black"},
            "encoding": {
              "x": {"field": "col", "type": "nominal", "scale": {"type": "point", "padding": 0, "domain": ["left", "indent"], "range": [-61, -46]}, "axis": null},
              "y": {"field": "line", "type": "ordinal", "scale": {"type": "point", "padding": 0}, "axis": null},
              "text": {"field": "text"}
            }
          },
          {
            "width": 600, "height": 56,
            "data": {"values": [
              {"line": 1, "col": "left", "text": "In fact, doxycycline has been shown to be effective against"},
              {"line": 2, "col": "left", "text": "all of the rickettsiae, including the ehrlichiae, with an"},
              {"line": 3, "col": "left", "text": "ECMIC of as low as 0.125 µg/ml (5, 6, 23). Doxycycline is"},
              {"line": 4, "col": "left", "text": "also bactericidal at this concentration. This bactericidal"},
              {"line": 5, "col": "left", "text": "effect is confirmed by the lack of regrowth after removal of"},
              {"line": 1, "col": "right", "text": "the antibiotic, and some authors assume that ehrlichial"},
              {"line": 2, "col": "right", "text": "killing is due to the ability of doxycycline to restore the"},
              {"line": 3, "col": "right", "text": "phagosome-lysosome fusion that is actively blocked by the"},
              {"line": 4, "col": "right", "text": "ehrlichiae (7, 30). Rifampin was found to be effective against"},
              {"line": 5, "col": "right", "text": "most rickettsiae, including E. sennetsu and E. risticii (5, 23)."}
            ]},
            "mark": {"type": "text", "align": "left", "baseline": "middle", "fontSize": 13, "font": "Liberation Serif", "color": "black"},
            "encoding": {
              "x": {"field": "col", "type": "nominal", "scale": {"type": "point", "padding": 0, "domain": ["left", "right"], "range": [-61, 284]}, "axis": null},
              "y": {"field": "line", "type": "ordinal", "scale": {"type": "point", "padding": 0}, "axis": null},
              "text": {"field": "text"}
            }
          }
        ]
      }
    ]
  }
]
}
